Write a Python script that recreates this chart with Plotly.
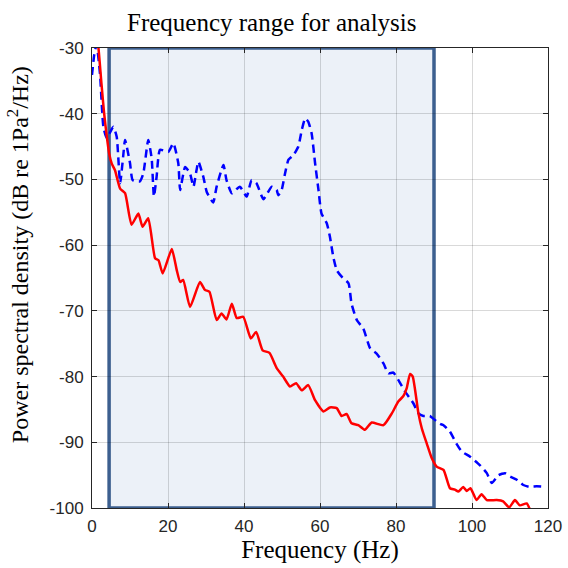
import plotly.graph_objects as go

# Red (solid) series
red_f = [0, 1.0, 1.7, 2.5, 3.2, 3.9, 4.5, 5.2, 6.05, 7.4, 8.7, 10.4, 12.2, 13.3, 14.8, 16.6, 17.5, 18.6,
         21.0, 22.3, 23.2, 24.0, 25.8, 28.4, 29.7, 30.9, 32.8, 34.1, 35.4, 36.8, 38.1, 39.8, 41.8, 43.2,
         44.9, 46.7, 48.6, 50.3, 52.1, 53.7, 55.2, 56.9, 58.7, 60.9, 62.6, 64.4, 65.7, 67.0, 68.3, 70.1,
         71.8, 73.6, 76.7, 78.9, 80.6, 81.9, 82.8, 83.7, 84.4, 85.9, 86.8, 88.1, 89.4, 90.7, 92.5, 94.2,
         95.5, 96.4, 97.7, 98.6, 99.6, 101.2, 102.5, 103.9, 106.5, 108.2, 109.8, 111.3, 112.6, 114.4, 115.3]
red_db = [-25, -27, -30, -35.5, -40, -43.5, -46, -47.6, -48.6, -51.4, -52.1, -56.9, -55.2, -57.2, -55.9, -62, -62.3, -64.3,
          -60.6, -63.8, -65.6, -65.3, -69.4, -65.6, -66.8, -67.1, -71.4, -70.4, -71.3, -68.9, -71.1, -70.9, -74.2, -73.2,
          -76.0, -76.4, -78.7, -80.0, -81.5, -81.0, -82.1, -81.3, -83.6, -85.3, -84.7, -84.8, -86.0, -85.7, -87.1, -87.4,
          -88.1, -87.0, -87.4, -85.6, -83.8, -83.0, -81.8, -79.6, -80.0, -85.6, -87.9, -90.2, -92.4, -93.7, -94.2, -97.0,
          -97.2, -97.5, -96.8, -97.4, -97.0, -98.8, -97.9, -98.8, -98.8, -99.0, -99.9, -98.8, -99.6, -99.3, -100.3]

# Blue (dashed) series
blue_f = [0, 0.6, 1.2, 2.1, 3.0, 3.9, 5.6, 6.5, 7.4, 8.2, 8.7, 10.0, 10.7, 12.6, 13.5, 14.8, 15.7, 16.3, 17.0,
          17.9, 20.1, 21.4, 22.7, 23.2, 24.5, 25.8, 26.7, 27.5, 28.0, 29.3, 30.2, 31.9, 32.8, 34.6, 35.4, 36.8,
          38.9, 40.7, 42.0, 43.3, 45.1, 47.3, 48.6, 49.0, 49.9, 50.8, 51.7, 53.0, 54.3, 55.2, 56.1, 56.9, 57.8,
          58.7, 59.6, 60.4, 61.8, 62.6, 63.5, 64.4, 65.7, 67.5, 68.3, 69.7, 71.4, 73.2, 74.9, 76.7, 78.0, 79.3,
          80.6, 82.4, 84.6, 85.9, 87.2, 88.9, 89.8, 91.6, 92.5, 94.2, 95.9, 97.3, 99.5, 102.1, 103.9, 105.2,
          107.0, 108.7, 110.0, 111.8, 113.5, 115.3, 117.0, 119.6]
blue_db = [-34.1, -31, -29.5, -33.9, -42.0, -43.7, -42.0, -43.5, -50.6, -46.5, -44.0, -47.5, -50.1, -50.3, -49.1, -44.0, -46.8, -52.6, -49.6,
           -45.5, -45.8, -44.5, -47.5, -51.6, -48.1, -49.1, -51.1, -48.6, -47.3, -49.6, -51.9, -53.5, -51.1, -47.8, -50.1, -52.1,
           -51.1, -52.6, -50.1, -50.6, -53.0, -51.1, -51.6, -52.4, -51.6, -49.1, -47.0, -46.3, -45.0, -42.5, -40.7, -41.2, -43.0,
           -47.5, -51.6, -55.2, -56.7, -58.7, -61.8, -63.8, -64.8, -65.8, -68.9, -71.4, -72.7, -75.7, -76.5, -78.0, -79.5, -79.4,
           -80.5, -82.3, -84.1, -85.6, -86.0, -86.0, -86.4, -87.2, -87.4, -88.4, -90.2, -91.4, -92.2, -93.5, -94.7, -96.2,
           -95.0, -94.7, -95.2, -95.7, -96.5, -96.8, -96.7, -96.8]

x_ticks = [0, 20, 40, 60, 80, 100, 120]
y_ticks = [-100, -90, -80, -70, -60, -50, -40, -30]
y_tick_labels = ["-100", "-90", "-80", "-70", "-60", "-50", "-40", "-30"]
band = [4.5, 90]
title_text = "Frequency range for analysis"
x_label = "Frequency (Hz)"
y_label = "Power spectral density (dB re 1Pa<sup>2</sup>/Hz)"

fig = go.Figure()
fig.add_shape(type="rect", xref="x", yref="y", x0=band[0], x1=band[1], y0=-100, y1=-30,
              fillcolor="#ecf1f8", line=dict(color="#3c5f8f", width=3.5), layer="below")
fig.add_trace(go.Scatter(x=blue_f, y=blue_db, mode="lines",
                         line=dict(color="#0000ff", width=2.5, dash="8px,5px", shape="spline", smoothing=0.5),
                         showlegend=False, cliponaxis=True))
fig.add_trace(go.Scatter(x=red_f, y=red_db, mode="lines",
                         line=dict(color="#ff0000", width=2.5, shape="spline", smoothing=0.5),
                         showlegend=False, cliponaxis=True))

fig.add_annotation(x=sum(band) / 2, y=1, xref="x", yref="paper", yanchor="bottom", yshift=10,
                   text=title_text, showarrow=False,
                   font=dict(family="Liberation Serif", size=25, color="#000000"))
fig.add_annotation(x=-0.162, y=0.55, xref="paper", yref="paper", xanchor="center", yanchor="middle",
                   text=y_label, textangle=-90, showarrow=False,
                   font=dict(family="Liberation Serif", size=24, color="#000000"))

axis_common = dict(showline=True, linecolor="#262626", linewidth=1, mirror="ticks",
                   ticks="inside", ticklen=5, tickcolor="#262626", automargin=False,
                   showgrid=True, gridcolor="rgba(0,0,0,0.15)", gridwidth=1, zeroline=False,
                   tickfont=dict(family="Liberation Sans", size=17, color="#262626"))

fig.update_xaxes(range=[0, 120], tickvals=x_ticks,
                 title=dict(text=x_label, font=dict(family="Liberation Serif", size=25, color="#000000"),
                            standoff=4),
                 ticklabelstandoff=3,
                 **axis_common)
fig.update_yaxes(range=[-100, -30], tickvals=y_ticks, ticktext=y_tick_labels,
                 ticklabelstandoff=4,
                 **axis_common)

fig.update_layout(width=568, height=568, margin=dict(l=92, r=20, t=48, b=60),
                  plot_bgcolor="white", paper_bgcolor="white")

fig.write_html("out.html")
